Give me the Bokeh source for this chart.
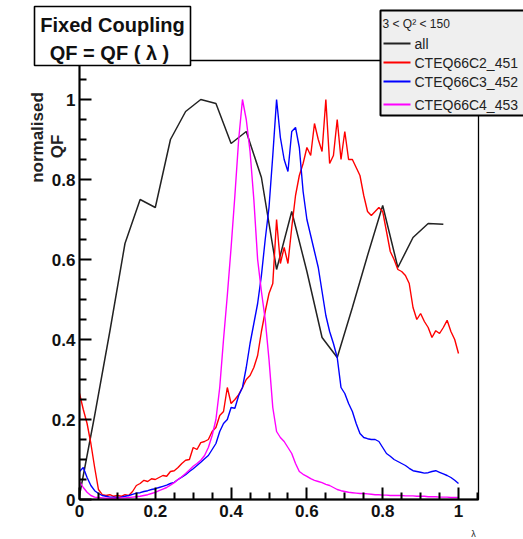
import numpy as np
from bokeh.plotting import figure
from bokeh.models import Range1d, FixedTicker, PolyAnnotation, Label, Arrow, BoxAnnotation
from bokeh.embed import file_html
from bokeh.resources import INLINE

# ---------------- data ----------------
lam_fine = [round(i * 0.01, 2) for i in range(101)]

all_x = [0.0, 0.04, 0.08, 0.12, 0.16, 0.20, 0.24, 0.28, 0.32, 0.36, 0.40, 0.44,
         0.48, 0.52, 0.56, 0.60, 0.64, 0.68, 0.72, 0.76, 0.80, 0.84, 0.88, 0.92, 0.96]
all_y = [0.01, 0.21, 0.42, 0.64, 0.75, 0.73, 0.90, 0.97, 1.0, 0.99, 0.89, 0.92,
         0.805, 0.575, 0.72, 0.57, 0.405, 0.355, 0.48, 0.61, 0.735, 0.58, 0.655, 0.69, 0.688]

c2_y = [0.265, 0.225, 0.19, 0.14, 0.08, 0.025, 0.012, 0.01, 0.012, 0.008,
        0.01, 0.008, 0.012, 0.01, 0.02, 0.035, 0.04, 0.048, 0.045, 0.052,
        0.05, 0.055, 0.06, 0.058, 0.07, 0.072, 0.08, 0.09, 0.098, 0.1,
        0.13, 0.125, 0.142, 0.145, 0.15, 0.17, 0.18, 0.21, 0.22, 0.28,
        0.24, 0.25, 0.262, 0.28, 0.3, 0.31, 0.33, 0.36, 0.42, 0.47,
        0.515, 0.54, 0.70, 0.59, 0.63, 0.59, 0.68, 0.76, 0.81, 0.84,
        0.88, 0.86, 0.94, 0.9, 0.87, 1.0, 0.84, 0.86, 0.95, 0.85,
        0.92, 0.85, 0.85, 0.83, 0.81, 0.76, 0.72, 0.71, 0.72, 0.73,
        0.72, 0.67, 0.62, 0.6, 0.575, 0.57, 0.56, 0.54, 0.48, 0.45,
        0.465, 0.445, 0.43, 0.405, 0.422, 0.415, 0.43, 0.448, 0.42, 0.4,
        0.365]

c3_y = [0.07, 0.08, 0.055, 0.035, 0.022, 0.015, 0.01, 0.008, 0.006, 0.006,
        0.005, 0.006, 0.008, 0.01, 0.013, 0.016, 0.017, 0.02, 0.022, 0.025,
        0.027, 0.03, 0.033, 0.036, 0.04, 0.043, 0.05, 0.056, 0.062, 0.07,
        0.077, 0.085, 0.093, 0.102, 0.11, 0.125, 0.14, 0.17, 0.19, 0.2,
        0.23, 0.228, 0.26, 0.28, 0.33, 0.39, 0.44, 0.49, 0.56, 0.65,
        0.73, 0.86, 1.0, 0.905, 0.85, 0.82, 0.92, 0.93, 0.88, 0.77,
        0.7, 0.66, 0.62, 0.58, 0.52, 0.46, 0.42, 0.39, 0.355, 0.28,
        0.265, 0.24, 0.22, 0.19, 0.165, 0.155, 0.152, 0.15, 0.15, 0.145,
        0.13, 0.115, 0.108, 0.1, 0.095, 0.09, 0.085, 0.078, 0.072, 0.07,
        0.068, 0.066, 0.067, 0.07, 0.072, 0.068, 0.064, 0.06, 0.055, 0.048,
        0.04]

c4_y = [0.045, 0.03, 0.018, 0.01, 0.006, 0.005, 0.004, 0.003, 0.003, 0.003,
        0.003, 0.004, 0.004, 0.005, 0.006, 0.007, 0.008, 0.01, 0.012, 0.015,
        0.018, 0.022, 0.026, 0.03, 0.036, 0.042, 0.05, 0.057, 0.065, 0.074,
        0.083, 0.09, 0.098, 0.11, 0.13, 0.16, 0.20, 0.28, 0.40, 0.51,
        0.63, 0.76, 0.9, 1.0, 0.95, 0.87, 0.75, 0.60, 0.52, 0.45,
        0.35, 0.23, 0.17, 0.155, 0.145, 0.13, 0.115, 0.09, 0.07, 0.063,
        0.058, 0.052, 0.048, 0.045, 0.042, 0.038, 0.035, 0.03, 0.025, 0.022,
        0.02, 0.018, 0.017, 0.016, 0.015, 0.015, 0.014, 0.013, 0.012, 0.012,
        0.011, 0.011, 0.01, 0.01, 0.01, 0.01, 0.009, 0.009, 0.009, 0.008,
        0.008, 0.008, 0.007, 0.007, 0.007, 0.006, 0.006, 0.006, 0.005, 0.005,
        0.005]

series_names = ["all", "CTEQ66C2_451", "CTEQ66C3_452", "CTEQ66C4_453"]
series_colors = ["#222222", "#ff0000", "#0000ff", "#ff00ff"]
major_ticks = [0.0, 0.2, 0.4, 0.6, 0.8, 1.0]
major_labels = ["0", "0.2", "0.4", "0.6", "0.8", "1"]
minor_ticks = [0.05, 0.1, 0.15, 0.25, 0.3, 0.35, 0.45, 0.5, 0.55, 0.65, 0.7, 0.75,
               0.85, 0.9, 0.95, 1.05]

# ---------------- layout (page pixel -> data) ----------------
W, H = 523, 539
X0, X1PX = 79, 379.0      # pixel of lambda=0, pixels per unit
Y0, Y1PX = 499, 400.0     # pixel of QF=0, pixels per unit
FRAME_R, FRAME_T = 478, 60

def X(px):
    return (px - X0) / X1PX

def Y(py):
    return (Y0 - py) / Y1PX

FONT = "Liberation Sans"

p = figure(width=W, height=H, output_backend="svg", toolbar_location=None,
           x_range=Range1d(X(0), X(W)), y_range=Range1d(Y(H), Y(0)),
           min_border_left=0, min_border_right=0, min_border_top=0,
           min_border_bottom=0)
p.background_fill_color = "white"
p.border_fill_color = "white"
p.outline_line_color = None
p.xgrid.visible = False
p.ygrid.visible = False

# frame of the drawing area
p.add_layout(BoxAnnotation(left=0, right=X(FRAME_R), bottom=0, top=Y(FRAME_T),
                           fill_alpha=0, line_color="black", line_alpha=1.0,
                           line_width=1.3, level="underlay"))

p.xaxis.fixed_location = 0
p.yaxis.fixed_location = 0
p.xaxis.bounds = (0, X(FRAME_R))
p.yaxis.bounds = (0, Y(FRAME_T))
for ax in (p.xaxis[0], p.yaxis[0]):
    ax.ticker = FixedTicker(ticks=major_ticks, minor_ticks=minor_ticks)
    ax.major_label_overrides = {t: l for t, l in zip(major_ticks, major_labels)}
    ax.axis_line_width = 2
    ax.major_tick_line_width = 2
    ax.minor_tick_line_width = 2
    ax.major_tick_in = 12
    ax.major_tick_out = 0
    ax.minor_tick_in = 7
    ax.minor_tick_out = 0
    ax.major_label_text_font = FONT
    ax.major_label_text_font_style = "bold"
    ax.major_label_text_font_size = "17px"
    ax.major_label_text_color = "#111111"
p.xaxis.major_label_standoff = 5
p.yaxis.major_label_standoff = 4

# ---------------- curves ----------------
p.line(all_x, all_y, line_color=series_colors[0], line_width=1.5)
p.line(lam_fine, c2_y, line_color=series_colors[1], line_width=1.4)
p.line(lam_fine, c3_y, line_color=series_colors[2], line_width=1.4)
p.line(lam_fine, c4_y, line_color=series_colors[3], line_width=1.4)

# ---------------- title box ----------------
p.add_layout(PolyAnnotation(xs=[X(34), X(190), X(190), X(34)],
                            ys=[Y(6), Y(6), Y(65), Y(65)],
                            fill_color="white", fill_alpha=1.0,
                            line_color="black", line_alpha=1.0, line_width=1.6))
p.add_layout(Label(x=X(112), y=Y(24), text="Fixed Coupling", text_font=FONT,
                   text_font_style="bold", text_font_size="20px",
                   text_align="center", text_baseline="middle", text_color="#111111"))
p.add_layout(Label(x=X(109), y=Y(52), text="QF = QF ( λ )", text_font=FONT,
                   text_font_style="bold", text_font_size="20px",
                   text_align="center", text_baseline="middle", text_color="#111111"))

# ---------------- legend box ----------------
p.add_layout(PolyAnnotation(xs=[X(380), X(540), X(540), X(380)],
                            ys=[Y(10), Y(10), Y(115), Y(115)],
                            fill_color="#efefef", fill_alpha=1.0,
                            line_color="black", line_alpha=1.0, line_width=2))
p.add_layout(Label(x=X(382), y=Y(23), text="3 < Q² < 150", text_font=FONT,
                   text_font_size="12px", text_align="left", text_baseline="middle",
                   text_color="#222222"))
entry_py = [43, 62, 81, 104]
for name, col, py in zip(series_names, series_colors, entry_py):
    p.add_layout(Arrow(x_start=X(383), y_start=Y(py), x_end=X(410), y_end=Y(py),
                       end=None, line_color=col, line_width=2))
    p.add_layout(Label(x=X(414), y=Y(py), text=name, text_font=FONT,
                       text_font_size="14px", text_align="left", text_baseline="middle",
                       text_color="#222222"))

# ---------------- axis titles ----------------
p.add_layout(Label(x=X(37), y=Y(137), text="normalised", angle=np.pi / 2,
                   text_font=FONT, text_font_style="bold", text_font_size="17px",
                   text_align="center", text_baseline="middle", text_color="#222222"))
p.add_layout(Label(x=X(57), y=Y(146), text="QF", angle=np.pi / 2,
                   text_font=FONT, text_font_style="bold", text_font_size="17px",
                   text_align="center", text_baseline="middle", text_color="#222222"))
p.add_layout(Label(x=X(473), y=Y(533), text="λ", text_font=FONT,
                   text_font_size="9px", text_align="center", text_baseline="middle",
                   text_color="#222222"))

open("out.html", "w").write(file_html(p, INLINE))
